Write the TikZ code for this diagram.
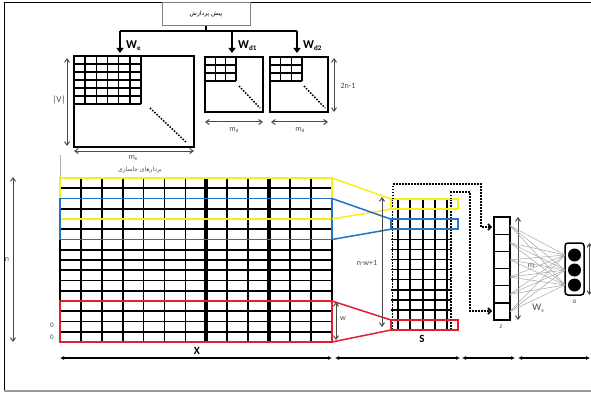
\documentclass[tikz,border=0pt]{standalone}
\usepackage{fontspec}
\setmainfont{Carlito}
\newfontfamily\arabicfont[Script=Arabic]{DejaVu Sans}
\TeXXeTstate=1
\usetikzlibrary{arrows.meta}
\definecolor{myyellow}{RGB}{248,240,20}
\definecolor{myblue}{RGB}{35,115,195}
\definecolor{myred}{RGB}{225,30,45}
\definecolor{labgray}{RGB}{75,75,75}
\newcommand{\fsz}[1]{\fontsize{#1}{#1}\selectfont}
\newcommand{\Wlab}[1]{{\fsz{12}\bfseries W\fsz{7}\raisebox{-2pt}{#1}}}
\begin{document}
\begin{tikzpicture}[x=1pt,y=-1pt,
  dimarrow/.style={{Straight Barb[length=3.5pt,width=5pt]}-{Straight Barb[length=3.5pt,width=5pt]}, line width=1pt, labgray},
  lab/.style={text=labgray, inner sep=0pt, font=\fsz{8}},
  gridline/.style={line width=1.6pt, black},
  wdown/.style={-{Triangle[length=5pt,width=7pt]}, line width=1.6pt},
  dotpath/.style={line width=1.5pt, dash pattern=on 1.5pt off 1.5pt, -{Straight Barb[length=3pt,width=6pt]}},
  axisarrow/.style={{Latex[length=4pt,width=4pt]}-{Latex[length=4pt,width=4pt]}, line width=1.2pt},
  fcline/.style={gray!70, line width=0.5pt},
  winbox/.style={line width=1.5pt}
]
\useasboundingbox (0,0) rectangle (591,393);
% frame
\draw[line width=1pt] (591,3) -- (4,3) -- (4,391);
\draw[gray!80, line width=1.5pt] (4,391) -- (591,391);

% preprocessing box
\node[draw=gray, line width=0.8pt, minimum width=88pt, minimum height=23pt, inner sep=0pt] (pre) at (206,14)
  {\arabicfont\fsz{6}\beginR پیش پردازش\endR};
\coordinate (jn) at (206,31);
\coordinate (jl) at (120,31);
\coordinate (jr) at (297,31);
\coordinate (tWe) at (120,53);
\coordinate (tWd1) at (232,53);
\coordinate (tWd2) at (297,53);
\draw[line width=1.3pt] (pre.south) -- (jn);
\draw[line width=1.3pt] (jl) -- (jr);
\draw[wdown] (jl) -- (tWe);
\draw[wdown] (232,31) -- (tWd1);
\draw[wdown] (jr) -- (tWd2);
\node[anchor=west, inner sep=0pt] (lWe) at (126,46) {\Wlab{e}};
\node[anchor=west, inner sep=0pt] (lWd1) at (238,46) {\Wlab{d1}};
\node[anchor=west, inner sep=0pt] (lWd2) at (303,46) {\Wlab{d2}};

% We matrix
\draw[line width=1.1pt] (74,56) rectangle (194,147);
\foreach \i in {0,...,6} \draw[gridline] ({74+\i*11.17},56) -- ({74+\i*11.17},104);
\foreach \i in {0,...,6} \draw[gridline] (74,{56+\i*8}) -- (141,{56+\i*8});
\draw[line width=1.5pt, dash pattern=on 1.5pt off 1.5pt] (150,108) -- (187,143);
\draw[dimarrow] (67,58) -- (67,146);
\node[lab, font=\fsz{9}] (lV) at (59,100) {|V|};
\draw[dimarrow] (74,151) -- (194,151);
\node[lab] (lme) at (133,158) {m\fsz{5}\raisebox{-1.5pt}{e}};

% Wd1 matrix
\draw[line width=1.1pt] (205,57) rectangle (263,112);
\foreach \i in {0,...,3} \draw[gridline] ({205+\i*10.33},57) -- ({205+\i*10.33},81);
\foreach \i in {0,...,3} \draw[gridline] (205,{57+\i*8}) -- (236,{57+\i*8});
\draw[line width=1.5pt, dash pattern=on 1.5pt off 1.5pt] (239,86) -- (260,108);
\draw[dimarrow] (205,122) -- (263,122);
\node[lab] (lmd1) at (234,130) {m\fsz{5}\raisebox{-1.5pt}{d}};

% Wd2 matrix
\draw[line width=1.1pt] (270,57) rectangle (328,112);
\foreach \i in {0,...,3} \draw[gridline] ({270+\i*10.67},57) -- ({270+\i*10.67},81);
\foreach \i in {0,...,3} \draw[gridline] (270,{57+\i*8}) -- (302,{57+\i*8});
\draw[line width=1.5pt, dash pattern=on 1.5pt off 1.5pt] (304,86) -- (325,108);
\draw[dimarrow] (271,122) -- (328,122);
\node[lab] (lmd2) at (300,130) {m\fsz{5}\raisebox{-1.5pt}{d}};
\draw[dimarrow] (334,58) -- (334,112);
\node[lab] (l2n) at (348,86) {2n-1};

% X matrix
\draw[gray!60, line width=0.8pt] (60,155) -- (60,178);
\node[text=labgray, inner sep=0pt] (emb) at (140,170) {\arabicfont\fsz{6}\beginR بردارهای جاسازی\endR};
\foreach \j in {0,...,16} \draw[gridline] (60,{178+\j*10.25}) -- (332,{178+\j*10.25});
\foreach \k in {0,...,13} \draw[gridline] ({60+\k*20.9},178) -- ({60+\k*20.9},342);
\foreach \k in {7,10} \draw[line width=4pt] ({60+\k*20.9},178) -- ({60+\k*20.9},342);

% window boxes in X
\draw[winbox, myyellow] (60,178) rectangle (332,219);
\draw[winbox, myblue] (60,198.5) rectangle (332,239.5);
\draw[winbox, myred] (60,301) rectangle (332,342);

% S matrix
\foreach \i in {0,...,13} \draw[gridline] (391,{199+\i*10.08}) -- (451,{199+\i*10.08});
\foreach \x in {398,410.3,422.6,434.9,447.2} \draw[line width=1.8pt] (\x,199) -- (\x,330);
\foreach \x in {392.5,451} \draw[line width=1.5pt, dash pattern=on 1.5pt off 1.5pt] (\x,199) -- (\x,330);
\draw[winbox, myyellow] (391,199) rectangle (458,209.1);
\draw[winbox, myblue] (391,219.2) rectangle (458,229.2);
\draw[winbox, myred] (391,320) rectangle (458,330);

% connectors X -> S
\coordinate (xy1) at (332,178); \coordinate (xy2) at (332,219);
\coordinate (sy1) at (391,199); \coordinate (sy2) at (391,209.1);
\coordinate (xb1) at (332,198.5); \coordinate (xb2) at (332,239.5);
\coordinate (sb1) at (391,219.2); \coordinate (sb2) at (391,229.2);
\coordinate (xr1) at (332,301); \coordinate (xr2) at (332,342);
\coordinate (sr1) at (391,320); \coordinate (sr2) at (391,330);
\draw[winbox, myyellow] (xy1) -- (sy1) (xy2) -- (sy2);
\draw[winbox, myblue] (xb1) -- (sb1) (xb2) -- (sb2);
\draw[winbox, myred] (xr1) -- (sr1) (xr2) -- (sr2);

% labels around X and S
\draw[dimarrow] (13,177) -- (13,342);
\node[lab] (ln) at (7,260) {n};
\node[lab, font=\fsz{7}] (l0a) at (52,325) {0};
\node[lab, font=\fsz{7}] (l0b) at (52,337) {0};
\draw[dimarrow] (336,302) -- (336,340);
\node[lab] (lw) at (343,319) {w};
\draw[dimarrow] (382,197) -- (382,327);
\node[lab] (lnw) at (367,263) {n-w+1};
\node[inner sep=0pt, font=\fsz{11}\bfseries] (lX) at (197,351) {X};
\node[inner sep=0pt, font=\fsz{11}\bfseries] (lS) at (422,339) {S};

% z vector
\draw[line width=1.3pt] (494,217) rectangle (510,320);
\foreach \i in {1,...,5} \draw[line width=1.3pt] (494,{217+\i*17.17}) -- (510,{217+\i*17.17});
\node[lab, font=\fsz{7}] (lz) at (501,327) {z};
\draw[dimarrow] (518,217) -- (518,320);
\node[lab] (lm) at (531,266) {m};

% dotted pooling arrows
\coordinate (zt) at (492,227);
\coordinate (zb) at (492,311);
\draw[dotpath] (393,199) -- (393,184) -- (481,184) -- (481,227) -- (zt);
\draw[dotpath] (451,199) -- (451,192) -- (470,192) -- (470,311) -- (zb);

% output
\draw[line width=1.5pt, rounded corners=3pt] (565,243) rectangle (584,295);
\foreach \y/\n in {255/o1,270/o2,285/o3} {
  \fill (574.5,\y) circle[radius=6.5pt];
  \coordinate (\n) at (565,\y);
}
\foreach \i in {0,...,5} {
  \coordinate (z\i) at (510,{225.6+\i*17.17});
  \foreach \n in {o1,o2,o3} \draw[fcline] (z\i) -- (\n);
}
\node[lab, font=\fsz{7}] (lo) at (574.5,302) {o};
\draw[dimarrow] (589.5,243) -- (589.5,295);
\node[text=labgray, inner sep=0pt] (lWs) at (538,308) {\fsz{10}W\fsz{6}\raisebox{-2pt}{s}};

% bottom axis arrows
\draw[axisarrow] (60,358) -- (332,358);
\draw[axisarrow] (335,358) -- (460,358);
\draw[axisarrow] (462,358) -- (515,358);
\draw[axisarrow] (518,358) -- (590,358);
\end{tikzpicture}
\end{document}
